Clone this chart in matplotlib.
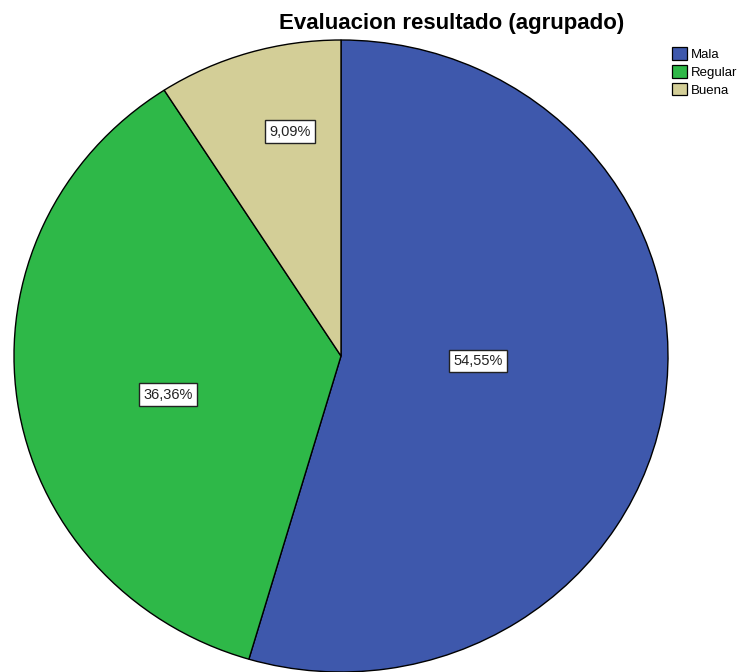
import matplotlib.pyplot as plt

plt.rcParams['font.family'] = ['Liberation Sans', 'DejaVu Sans']

categories = ['Mala', 'Regular', 'Buena']
counts = [6, 4, 1]
colors = ['#3E58AC', '#2EB848', '#D3CE97']
title = 'Evaluacion resultado (agrupado)'

# label centres, in units of the pie radius (SPSS doesn't place them radially)
label_xy = [(0.42, -0.016), (-0.528, -0.123), (-0.157, 0.71)]

fig = plt.figure(figsize=(7.45, 6.72), dpi=100)
ax = fig.add_axes([14 / 745, 0.0, 654 / 745, 632 / 672])

wedges, texts, autotexts = ax.pie(
    counts, colors=colors, startangle=90, counterclock=False,
    autopct=lambda p: f'{p:.2f}%'.replace('.', ','),
    wedgeprops=dict(edgecolor='black', linewidth=1.0),
    textprops=dict(fontsize=10.5),
)
ax.set_aspect('auto')
ax.set_xlim(-1, 1)
ax.set_ylim(-1, 1)

for t, (x, y) in zip(autotexts, label_xy):
    t.set_position((x, y))
    t.set_ha('center')
    t.set_va('center')
    t.set_color('#222222')
    t.set_bbox(dict(boxstyle='square,pad=0.3', facecolor='white',
                    edgecolor='#222222', linewidth=1.0))

fig.text(452 / 745, 1 - 23 / 672, title, ha='center', va='center',
         fontsize=16, fontweight='bold')

leg = fig.legend(wedges, categories, loc='upper left',
                 bbox_to_anchor=(663 / 745, 1 - 38 / 672), frameon=False,
                 fontsize=9.5, handlelength=1.1, handleheight=1.1,
                 handletextpad=0.3, labelspacing=0.3, borderpad=0.2)
for h in leg.legend_handles:
    h.set_linewidth(0.9)

fig.savefig('out.png', dpi=100)
